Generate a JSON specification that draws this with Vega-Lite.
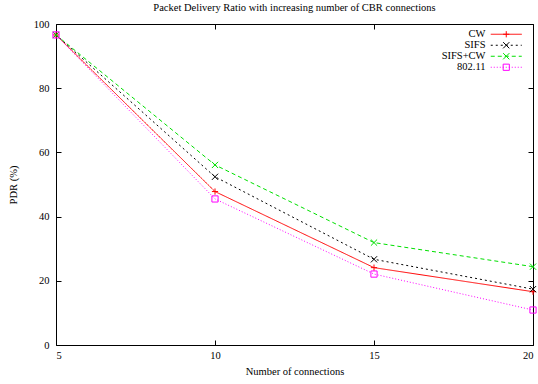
{
  "$schema": "https://vega.github.io/schema/vega-lite/v6.json",
  "width": 477,
  "height": 321,
  "autosize": {"type": "none"},
  "padding": {"left": 56, "top": 24, "right": 5, "bottom": 39},
  "background": "white",
  "config": {
    "font": "Liberation Serif",
    "view": {"stroke": "#000", "strokeWidth": 1},
    "axis": {
      "grid": false,
      "domain": false,
      "labelFont": "Liberation Serif",
      "labelFontSize": 10.5,
      "labelColor": "#000",
      "titleFont": "Liberation Serif",
      "titleFontSize": 10.5,
      "titleFontWeight": "normal",
      "titleColor": "#000",
      "tickColor": "#000",
      "tickSize": -5,
      "tickWidth": 1
    },
    "legend": {"padding": 0}
  },
  "title": {
    "text": "Packet Delivery Ratio with increasing number of CBR connections",
    "font": "Liberation Serif",
    "fontSize": 10.5,
    "fontWeight": "normal",
    "color": "#000",
    "anchor": "middle",
    "offset": 6
  },
  "data": {
    "values": [
      {"protocol": "CW", "connections": 5, "pdr": 96.6},
      {"protocol": "CW", "connections": 10, "pdr": 47.8},
      {"protocol": "CW", "connections": 15, "pdr": 24.1},
      {"protocol": "CW", "connections": 20, "pdr": 16.6},
      {"protocol": "SIFS", "connections": 5, "pdr": 96.6},
      {"protocol": "SIFS", "connections": 10, "pdr": 52.4},
      {"protocol": "SIFS", "connections": 15, "pdr": 26.7},
      {"protocol": "SIFS", "connections": 20, "pdr": 17.4},
      {"protocol": "SIFS+CW", "connections": 5, "pdr": 96.6},
      {"protocol": "SIFS+CW", "connections": 10, "pdr": 56.1},
      {"protocol": "SIFS+CW", "connections": 15, "pdr": 31.9},
      {"protocol": "SIFS+CW", "connections": 20, "pdr": 24.4},
      {"protocol": "802.11", "connections": 5, "pdr": 96.6},
      {"protocol": "802.11", "connections": 10, "pdr": 45.5},
      {"protocol": "802.11", "connections": 15, "pdr": 22.1},
      {"protocol": "802.11", "connections": 20, "pdr": 10.9}
    ]
  },
  "layer": [
    {
      "mark": {"type": "line", "strokeWidth": 1},
      "encoding": {
        "x": {
          "field": "connections", "type": "quantitative",
          "scale": {"domain": [5, 20], "nice": false, "zero": false},
          "axis": {"values": [5, 10, 15, 20], "title": "Number of connections", "labelPadding": 10, "titlePadding": 6}
        },
        "y": {
          "field": "pdr", "type": "quantitative",
          "scale": {"domain": [0, 100], "nice": false},
          "axis": {"values": [0, 20, 40, 60, 80, 100], "title": "PDR (%)", "labelPadding": 12, "titlePadding": 15}
        },
        "color": {
          "field": "protocol", "type": "nominal",
          "scale": {"domain": ["CW", "SIFS", "SIFS+CW", "802.11"], "range": ["#ff0000", "#000000", "#00e000", "#ff00ff"]},
          "legend": {
            "title": null, "orient": "none", "legendX": 445, "legendY": 5,
            "symbolType": "M-5,0H5", "symbolSize": 38.44, "symbolStrokeWidth": 1,
            "labelAlign": "right", "labelOffset": -26, "labelFont": "Liberation Serif",
            "labelFontSize": 10.5, "labelColor": "#000", "rowPadding": 0
          }
        },
        "strokeDash": {
          "field": "protocol", "type": "nominal",
          "scale": {"domain": ["CW", "SIFS", "SIFS+CW", "802.11"], "range": [[1, 0], [2, 3], [4, 3], [1, 2]]},
          "legend": {
            "title": null, "orient": "none", "legendX": 445, "legendY": 5,
            "symbolType": "M-5,0H5", "symbolSize": 38.44, "symbolStrokeWidth": 1,
            "labelAlign": "right", "labelOffset": -26, "labelFont": "Liberation Serif",
            "labelFontSize": 10.5, "labelColor": "#000", "rowPadding": 0
          }
        }
      }
    },
    {
      "mark": {"type": "point", "filled": false, "strokeWidth": 1, "size": 38.44, "opacity": 1},
      "encoding": {
        "x": {"field": "connections", "type": "quantitative", "axis": null},
        "y": {"field": "pdr", "type": "quantitative", "axis": null},
        "color": {"field": "protocol", "type": "nominal"},
        "shape": {
          "field": "protocol", "type": "nominal",
          "sort": ["CW", "SIFS", "SIFS+CW", "802.11"],
          "scale": {
            "range": ["M-1,0H1M0,-1V1", "M-1,-1L1,1M-1,1L1,-1", "M-1,-1L1,1M-1,1L1,-1", "square"]
          },
          "legend": {
            "title": null, "orient": "none", "legendX": 445, "legendY": 5,
            "symbolSize": 38.44, "symbolStrokeWidth": 1,
            "symbolStrokeColor": {"expr": "scale('color', datum.value)"},
            "symbolFillColor": "transparent",
            "labelAlign": "right", "labelOffset": -26, "labelFont": "Liberation Serif",
            "labelFontSize": 10.5, "labelColor": "rgba(0,0,0,0)", "rowPadding": 0
          }
        }
      }
    },
    {
      "mark": {"type": "point", "opacity": 0},
      "encoding": {
        "x": {"field": "connections", "type": "quantitative",
          "axis": {"orient": "top", "values": [5, 10, 15, 20], "labels": false, "title": null}},
        "y": {"field": "pdr", "type": "quantitative",
          "axis": {"orient": "right", "values": [0, 20, 40, 60, 80, 100], "labels": false, "title": null}}
      }
    }
  ],
  "resolve": {"axis": {"x": "independent", "y": "independent"}}
}
